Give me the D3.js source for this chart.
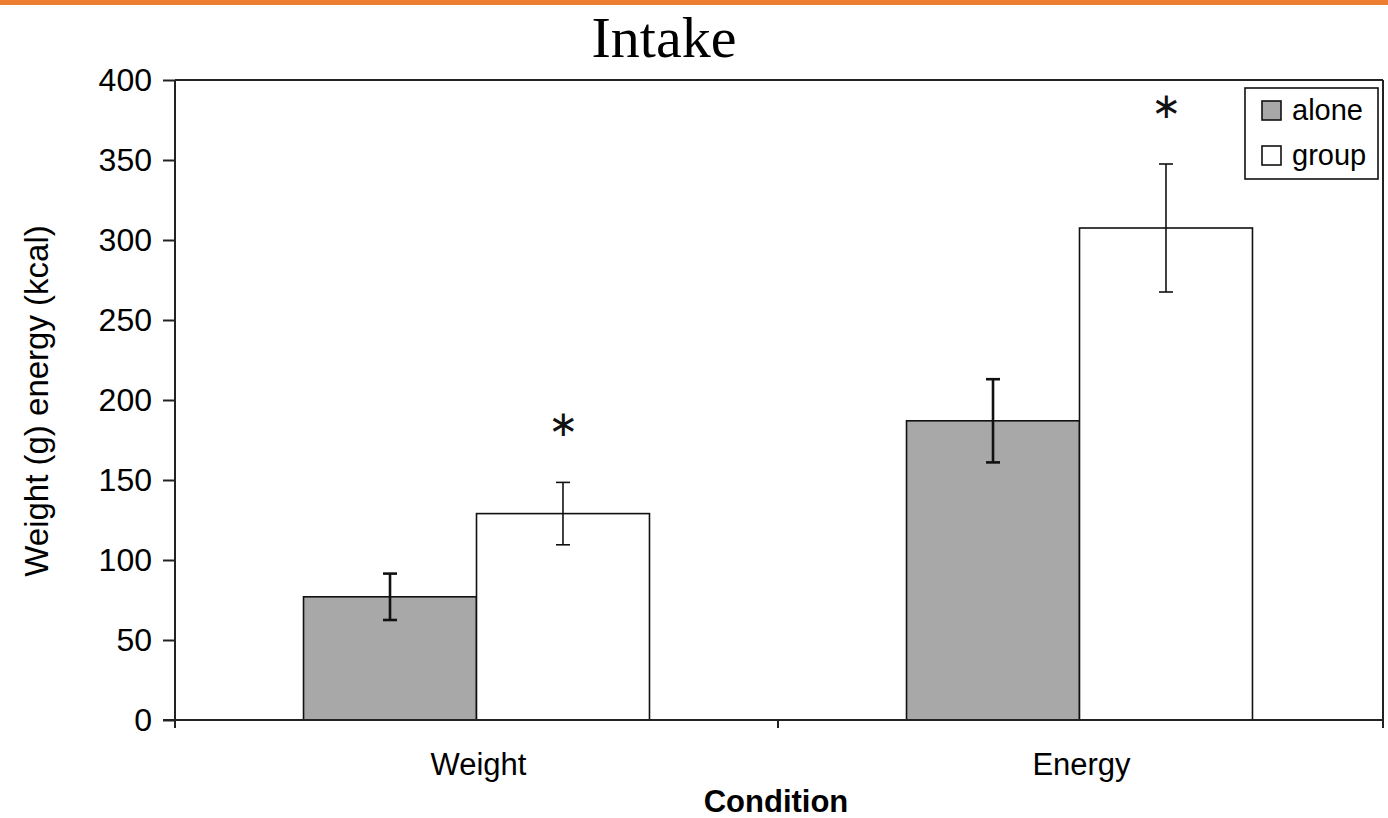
<!DOCTYPE html>
<html>
<head>
<meta charset="utf-8">
<script src="https://cdn.jsdelivr.net/npm/d3@7"></script>
<style>
  html, body { margin: 0; padding: 0; background: #fff; }
  svg { display: block; }
</style>
</head>
<body>
<svg id="chart" width="1388" height="818"></svg>
<script>
// Mean intake per condition, eating alone vs. in a group
const categories = ["Weight", "Energy"];
const seriesNames = ["alone", "group"];
const aloneMeans = [77, 187];
const groupMeans = [129, 307.5];
const aloneErrors = [14.5, 26];
const groupErrors = [19.5, 40];
const significant = [true, true];   // group differs from alone (marked *)
const yTicks = [0, 50, 100, 150, 200, 250, 300, 350, 400];

const svg = d3.select("#chart");
const W = 1388, H = 818;
const margin = { top: 80, right: 6, bottom: 98, left: 175 };
const plotW = 1381 - margin.left;
const plotH = H - margin.top - margin.bottom;

const fillColor = { alone: "#a8a8a8", group: "#ffffff" };
const errWidth = { alone: 2.6, group: 1.6 };

// orange rule across the top of the slide
svg.append("rect").attr("x", 0).attr("y", 0).attr("width", W).attr("height", 5)
  .attr("fill", "#ED7D31");

// title
svg.append("text")
  .attr("x", 664).attr("y", 57)
  .attr("text-anchor", "middle")
  .attr("font-family", "'Liberation Serif', 'Times New Roman', serif")
  .attr("font-size", 58)
  .attr("fill", "#000")
  .text("Intake");

const g = svg.append("g").attr("transform", `translate(${margin.left},${margin.top})`);

const x0 = d3.scaleBand().domain(categories).range([0, plotW]).padding(0);
const x1 = d3.scaleBand().domain(seriesNames).range([0, x0.bandwidth()])
  .paddingInner(0).paddingOuter(0.743);
const y = d3.scaleLinear().domain([0, 400]).range([plotH, 0]);

const rows = categories.map((c, i) => ({
  category: c,
  values: [
    { key: "alone", mean: aloneMeans[i], err: aloneErrors[i] },
    { key: "group", mean: groupMeans[i], err: groupErrors[i] }
  ],
  sig: significant[i]
}));

// frame: top and right edges
g.append("line").attr("x1", 0).attr("x2", plotW + 2).attr("y1", 0).attr("y2", 0)
  .attr("stroke", "#222").attr("stroke-width", 2);
g.append("line").attr("x1", plotW + 2).attr("x2", plotW + 2).attr("y1", 0).attr("y2", plotH)
  .attr("stroke", "#222").attr("stroke-width", 2);

// bars
const groups = g.selectAll("g.cat").data(rows).join("g")
  .attr("class", "cat")
  .attr("transform", d => `translate(${x0(d.category)},0)`);

groups.selectAll("rect").data(d => d.values).join("rect")
  .attr("x", d => x1(d.key))
  .attr("y", d => y(d.mean))
  .attr("width", x1.bandwidth())
  .attr("height", d => plotH - y(d.mean))
  .attr("fill", d => fillColor[d.key])
  .attr("stroke", "#111")
  .attr("stroke-width", 1.6);

// error bars
const capHalf = 7;
const eb = groups.selectAll("g.err").data(d => d.values).join("g").attr("class", "err");
eb.append("line")
  .attr("x1", d => x1(d.key) + x1.bandwidth() / 2)
  .attr("x2", d => x1(d.key) + x1.bandwidth() / 2)
  .attr("y1", d => y(d.mean + d.err))
  .attr("y2", d => y(d.mean - d.err))
  .attr("stroke", "#111").attr("stroke-width", d => errWidth[d.key]);
eb.append("line")
  .attr("x1", d => x1(d.key) + x1.bandwidth() / 2 - capHalf)
  .attr("x2", d => x1(d.key) + x1.bandwidth() / 2 + capHalf)
  .attr("y1", d => y(d.mean + d.err))
  .attr("y2", d => y(d.mean + d.err))
  .attr("stroke", "#111").attr("stroke-width", d => errWidth[d.key]);
eb.append("line")
  .attr("x1", d => x1(d.key) + x1.bandwidth() / 2 - capHalf)
  .attr("x2", d => x1(d.key) + x1.bandwidth() / 2 + capHalf)
  .attr("y1", d => y(d.mean - d.err))
  .attr("y2", d => y(d.mean - d.err))
  .attr("stroke", "#111").attr("stroke-width", d => errWidth[d.key]);

// significance markers above the group bars
groups.filter(d => d.sig).append("text")
  .attr("x", d => x1("group") + x1.bandwidth() / 2)
  .attr("y", d => y(d.values[1].mean + d.values[1].err) - 59)
  .attr("text-anchor", "middle")
  .attr("dominant-baseline", "central")
  .attr("font-family", "'DejaVu Sans', sans-serif")
  .attr("font-size", 36)
  .attr("fill", "#111")
  .text("\u2217");

// y axis
const yAxis = g.append("g")
  .call(d3.axisLeft(y).tickValues(yTicks).tickSize(12).tickPadding(11).tickSizeOuter(0));
yAxis.select(".domain").attr("stroke", "#222").attr("stroke-width", 2)
  .attr("d", `M0,0V${plotH + 8}`);
yAxis.selectAll(".tick line").attr("stroke", "#222").attr("stroke-width", 2);
yAxis.selectAll(".tick text")
  .attr("font-family", "'Liberation Sans', Arial, sans-serif")
  .attr("font-size", 32).attr("fill", "#000");

// x axis: category labels centred in bands, ticks on band boundaries
const xAxis = g.append("g").attr("transform", `translate(0,${plotH})`);
xAxis.append("line").attr("x1", -12).attr("x2", plotW + 2).attr("y1", 0).attr("y2", 0)
  .attr("stroke", "#222").attr("stroke-width", 2);
const bounds = categories.map(c => x0(c)).concat([plotW + 2]);
xAxis.selectAll("line.sep").data(bounds.slice(1)).join("line")
  .attr("class", "sep")
  .attr("x1", d => d).attr("x2", d => d).attr("y1", 0).attr("y2", 8)
  .attr("stroke", "#222").attr("stroke-width", 2);
xAxis.selectAll("text.cat").data(categories).join("text")
  .attr("class", "cat")
  .attr("x", d => x0(d) + x0.bandwidth() / 2 + 2)
  .attr("y", 55)
  .attr("text-anchor", "middle")
  .attr("font-family", "'Liberation Sans', Arial, sans-serif")
  .attr("font-size", 31).attr("fill", "#000")
  .text(d => d);

// axis titles
svg.append("text")
  .attr("x", 776).attr("y", 812)
  .attr("text-anchor", "middle")
  .attr("font-family", "'Liberation Sans', Arial, sans-serif")
  .attr("font-size", 31).attr("font-weight", "bold").attr("fill", "#000")
  .text("Condition");

svg.append("text")
  .attr("transform", "translate(48,401) rotate(-90)")
  .attr("text-anchor", "middle")
  .attr("font-family", "'Liberation Sans', Arial, sans-serif")
  .attr("font-size", 33).attr("fill", "#000")
  .text("Weight (g) energy (kcal)");

// legend
const legend = svg.append("g").attr("transform", "translate(1245,88)");
legend.append("rect").attr("x", 0).attr("y", 0).attr("width", 133).attr("height", 91)
  .attr("fill", "#fff").attr("stroke", "#111").attr("stroke-width", 1.6);
const items = legend.selectAll("g.item").data(seriesNames).join("g")
  .attr("class", "item")
  .attr("transform", (d, i) => `translate(17,${13 + i * 45})`);
items.append("rect").attr("width", 19).attr("height", 19)
  .attr("fill", d => fillColor[d]).attr("stroke", "#111").attr("stroke-width", 1.6);
items.append("text").attr("x", 30).attr("y", 19)
  .attr("font-family", "'Liberation Sans', Arial, sans-serif")
  .attr("font-size", 29).attr("fill", "#000")
  .text(d => d);
</script>
</body>
</html>
